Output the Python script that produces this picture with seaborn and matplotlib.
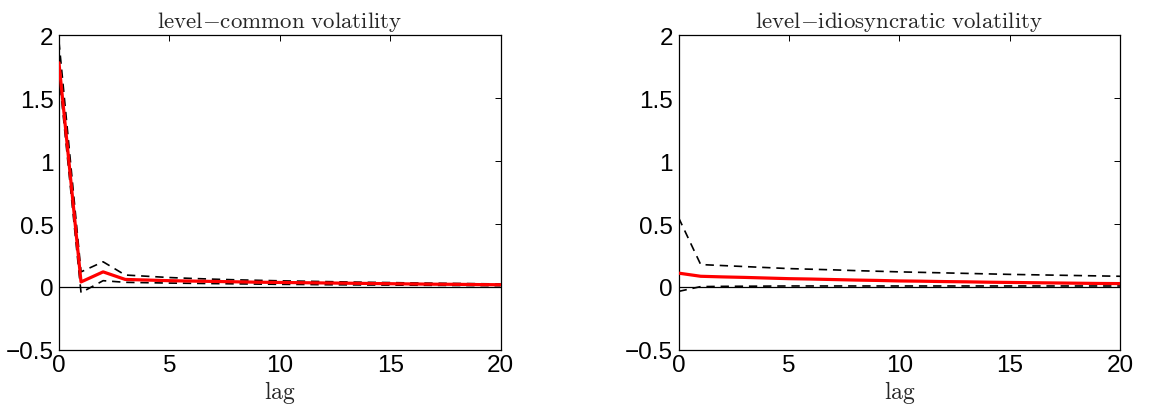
import numpy as np
import pandas as pd
import matplotlib
matplotlib.use("Agg")
import matplotlib.pyplot as plt
import seaborn as sns

# lags 0..20
lags = list(range(21))

# level - common volatility
common_irf = [1.78, 0.04, 0.12, 0.06, 0.055, 0.050, 0.047, 0.044, 0.041, 0.038, 0.036,
              0.034, 0.032, 0.030, 0.028, 0.026, 0.024, 0.022, 0.021, 0.019, 0.018]
common_upper = [1.95, 0.12, 0.20, 0.095, 0.085, 0.075, 0.068, 0.062, 0.057, 0.053, 0.049,
                0.046, 0.043, 0.040, 0.037, 0.035, 0.032, 0.030, 0.028, 0.026, 0.024]
common_lower = [1.70, -0.045, 0.05, 0.037, 0.034, 0.031, 0.029, 0.027, 0.025, 0.023, 0.021,
                0.020, 0.018, 0.017, 0.016, 0.015, 0.014, 0.013, 0.012, 0.011, 0.010]

# level - idiosyncratic volatility
idio_irf = [0.11, 0.085, 0.080, 0.076, 0.071, 0.066, 0.063, 0.059, 0.055, 0.052, 0.048,
            0.046, 0.043, 0.041, 0.038, 0.036, 0.034, 0.032, 0.030, 0.028, 0.027]
idio_upper = [0.55, 0.178, 0.170, 0.162, 0.154, 0.146, 0.141, 0.136, 0.130, 0.125, 0.120,
              0.116, 0.112, 0.108, 0.104, 0.100, 0.097, 0.094, 0.091, 0.088, 0.085]
idio_lower = [-0.035, 0.003, 0.005, 0.006, 0.007, 0.008, 0.008, 0.008, 0.008, 0.008, 0.008,
              0.008, 0.008, 0.008, 0.008, 0.008, 0.008, 0.008, 0.008, 0.008, 0.008]

titles = ["level\u2013common volatility", "level\u2013idiosyncratic volatility"]
xticks = [0, 5, 10, 15, 20]
yticks = [-0.5, 0, 0.5, 1, 1.5, 2]
ytick_labels = ["\u22120.5", "0", "0.5", "1", "1.5", "2"]

sns.set_style("white")
plt.rcParams['font.family'] = ['Liberation Sans', 'DejaVu Sans']
plt.rcParams['mathtext.fontset'] = 'cm'

fig, axes = plt.subplots(1, 2, figsize=(11.49, 4.10), dpi=100)
fig.subplots_adjust(left=0.0513, right=0.975, top=0.912, bottom=0.144, wspace=0.403)

panels = [
    (common_irf, common_upper, common_lower),
    (idio_irf, idio_upper, idio_lower),
]

for ax, (irf, upper, lower), title in zip(axes, panels, titles):
    df = pd.DataFrame({'lag': lags, 'irf': irf, 'upper': upper, 'lower': lower})
    ax.axhline(0, color='black', lw=0.9, zorder=1)
    sns.lineplot(data=df, x='lag', y='upper', ax=ax, color='black', lw=1.2,
                 linestyle=(0, (5, 3.5)), zorder=2)
    sns.lineplot(data=df, x='lag', y='lower', ax=ax, color='black', lw=1.2,
                 linestyle=(0, (5, 3.5)), zorder=2)
    sns.lineplot(data=df, x='lag', y='irf', ax=ax, color='#ff0000', lw=2.3, zorder=3)

    ax.set_xlim(0, 20)
    ax.set_ylim(-0.5, 2)
    ax.set_xticks(xticks)
    ax.set_xticklabels([str(t) for t in xticks])
    ax.set_yticks(yticks)
    ax.set_yticklabels(ytick_labels)
    ax.tick_params(direction='in', length=4, width=0.7, top=True, right=True,
                   labelsize=17.5, pad=4, colors='black')
    ax.tick_params(axis='x', pad=3)
    for sp in ax.spines.values():
        sp.set_color('black')
        sp.set_linewidth(0.9)
    name = title.replace(' ', r'\ ').replace('\u2013', '{-}')
    ax.set_title(r'$\mathrm{' + name + '}$', fontsize=16.5, pad=6)
    ax.set_xlabel(r'$\mathrm{lag}$', fontsize=17, labelpad=1)
    ax.set_ylabel('')

fig.savefig('out.png', dpi=100)
